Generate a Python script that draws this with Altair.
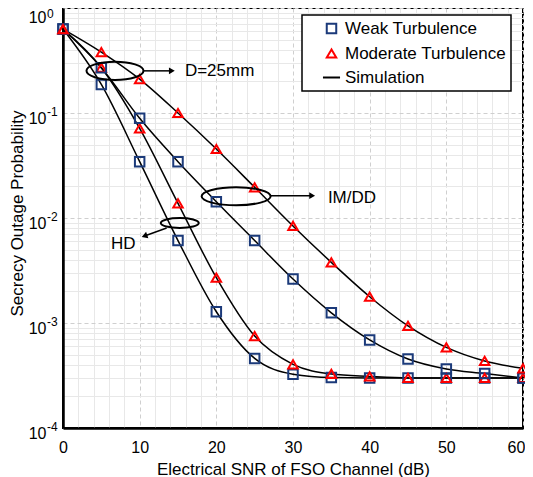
import altair as alt
import pandas as pd

# ---------------- data ----------------
snr = [0, 5, 10, 15, 20, 25, 30, 35, 40, 45, 50, 55, 60]
weak_hd = [0.63, 0.187, 0.0344, 0.0061, 0.00128, 0.00046, 0.000325, 0.000302,
           0.0003, 0.0003, 0.0003, 0.0003, 0.0003]
moderate_hd = [0.63, 0.27, 0.0714, 0.0138, 0.0027, 0.00075, 0.000404, 0.000327,
               0.00031, 0.0003, 0.0003, 0.0003, 0.0003]
weak_imdd = [0.63, 0.27, 0.089, 0.0344, 0.0143, 0.0061, 0.00262, 0.00125,
             0.00069, 0.000454, 0.000365, 0.000331, 0.0003]
moderate_imdd = [0.63, 0.38, 0.21, 0.10, 0.0454, 0.0196, 0.0084, 0.00378,
                 0.00178, 0.00094, 0.000586, 0.000435, 0.00037]

legend_labels = ["Weak Turbulence", "Moderate Turbulence", "Simulation"]
series_info = [
    ("Weak HD", "Weak Turbulence", weak_hd),
    ("Moderate HD", "Moderate Turbulence", moderate_hd),
    ("Weak IM/DD", "Weak Turbulence", weak_imdd),
    ("Moderate IM/DD", "Moderate Turbulence", moderate_imdd),
]

# y tick labels: base "10" plus exponent
y_decades = [1e-4, 1e-3, 1e-2, 1e-1, 1.0]
y_exponents = ["-4", "-3", "-2", "-1", "0"]

# annotations (data coordinates)
ellipse_labels = ["D=25mm", "IM/DD", "HD"]
ellipse_x = [6.78, 22.58, 15.23]
ellipse_y = [0.252, 0.0161, 0.00896]
ellipse_w = [57, 69, 38]
ellipse_ratio = [0.32, 0.26, 0.26]

arrow_x1 = [10.47, 27.08, 13.52]
arrow_x2 = [14.2, 32.5, 10.63]
arrow_y1 = [0.252, 0.0163, 0.00803]
arrow_y2 = [0.252, 0.0163, 0.00674]
arrow_angle = [0, 0, 160]

text_x = [15.9, 34.55, 7.86]
text_y = [0.252, 0.0155, 0.00565]
text_align = ["left", "left", "center"]

NAVY = "#1B3A7A"
RED = "#FF0000"
FONT = "Liberation Sans"

rows = []
for name, turb, vals in series_info:
    for s, v in zip(snr, vals):
        rows.append({"snr": s, "prob": v, "turb": turb, "series": name})
df = pd.DataFrame(rows)

x_scale = alt.Scale(domain=[0, 60], nice=False, zero=False)
y_scale = alt.Scale(type="log", domain=[1e-4, 1], nice=False)

x_values = list(range(0, 61, 2))
y_values = [m * 10.0 ** e for e in range(-4, 0) for m in range(1, 10)] + [1.0]

dec_test = "abs(log(datum.value)/LN10 - round(log(datum.value)/LN10)) < 0.001"
x_major = "datum.value % 10 === 0"

x_axis = alt.Axis(
    values=x_values,
    labelExpr="datum.value % 10 === 0 ? '' + datum.value : ''",
    ticks=False, labelFlush=False, labelOverlap=False, labelBound=False,
    labelPadding=11, labelFontSize=16,
    labelOffset={"condition": {"test": "datum.value >= 60", "value": -7}, "value": 0},
    title="Electrical SNR of FSO Channel (dB)", titleFontSize=17,
    titleBaseline="alphabetic", titleY=46, titleX=230,
    domainColor="black", domainWidth=2.5,
    gridDash={"condition": {"test": x_major, "value": [4, 3]}, "value": []},
    gridColor={"condition": {"test": x_major, "value": "#cfcfcf"}, "value": "#e8e8e8"},
    gridWidth=1,
)
y_axis = alt.Axis(
    values=y_values,
    labelExpr=dec_test + " ? '10' : ''",
    ticks=False, labelFlush=False, labelOverlap=False, labelBound=False,
    labelPadding=17, labelFontSize=16, labelBaseline="middle",
    labelOffset={"condition": {"test": "datum.value > 0.5", "value": 9}, "value": 5},
    title="Secrecy Outage Probability", titleFontSize=17,
    titleBaseline="alphabetic", titleAngle=-90, titleX=-41, titleY=205,
    titleAlign="center",
    domainColor="black", domainWidth=2.5,
    gridDash={"condition": {"test": dec_test, "value": [4, 3]}, "value": []},
    gridColor={"condition": {"test": dec_test, "value": "#cfcfcf"}, "value": "#e8e8e8"},
    gridWidth=1,
)


def X(field):
    return alt.X(field, type="quantitative", scale=x_scale, axis=x_axis)


def Y(field):
    return alt.Y(field, type="quantitative", scale=y_scale, axis=y_axis)


base = alt.Chart(df)

lines = base.mark_line(color="black", strokeWidth=1.5, interpolate="monotone").encode(
    x=X("snr"), y=Y("prob"), detail="series:N",
)

leg = alt.Legend(title=None, orient="none", legendX=239, legendY=7)
points = base.mark_point(filled=False, strokeWidth=2, size=90, opacity=1).encode(
    x=X("snr"), y=Y("prob"),
    shape=alt.Shape("turb:N", scale=alt.Scale(domain=legend_labels,
                    range=["square", "triangle-up", "M-1.8,0L1.8,0"]), legend=leg),
    color=alt.Color("turb:N", scale=alt.Scale(domain=legend_labels,
                    range=[NAVY, RED, "black"]), legend=leg),
)

exp_low = pd.DataFrame({"v": y_decades[:-1], "e": y_exponents[:-1]})
exp_top = pd.DataFrame({"v": y_decades[-1:], "e": y_exponents[-1:]})
exponents_low = alt.Chart(exp_low).mark_text(
    font=FONT, fontSize=12, color="black", align="left", baseline="middle", dy=-1,
).encode(x=alt.value(-16), y=Y("v"), text="e:N")
exponents_top = alt.Chart(exp_top).mark_text(
    font=FONT, fontSize=12, color="black", align="left", baseline="middle", dy=6,
).encode(x=alt.value(-16), y=Y("v"), text="e:N")


def ellipse_path(r):
    k = 0.5523
    return (f"M1,0 C1,{k*r:.4f} {k:.4f},{r:.4f} 0,{r:.4f} "
            f"C{-k:.4f},{r:.4f} -1,{k*r:.4f} -1,0 "
            f"C-1,{-k*r:.4f} {-k:.4f},{-r:.4f} 0,{-r:.4f} "
            f"C{k:.4f},{-r:.4f} 1,{-k*r:.4f} 1,0 Z")


layers = [lines, points, exponents_low, exponents_top]
for i in range(len(ellipse_labels)):
    d = pd.DataFrame({
        "ex": [ellipse_x[i]], "ey": [ellipse_y[i]],
        "ax1": [arrow_x1[i]], "ax2": [arrow_x2[i]],
        "ay1": [arrow_y1[i]], "ay2": [arrow_y2[i]],
        "tx": [text_x[i]], "ty": [text_y[i]], "label": [ellipse_labels[i]],
    })
    c = alt.Chart(d)
    layers.append(c.mark_point(shape=ellipse_path(ellipse_ratio[i]), size=ellipse_w[i] ** 2,
                               filled=False, color="black", strokeWidth=2, opacity=1).encode(
        x=X("ex"), y=Y("ey")))
    layers.append(c.mark_rule(color="black", strokeWidth=1.5).encode(
        x=X("ax1"), x2="ax2:Q", y=Y("ay1"), y2="ay2:Q"))
    layers.append(c.mark_point(shape="triangle-right", filled=True, color="black", size=45,
                               opacity=1, angle=arrow_angle[i]).encode(
        x=X("ax2"), y=Y("ay2")))
    layers.append(c.mark_text(font=FONT, fontSize=17, color="black", align=text_align[i],
                              baseline="middle").encode(
        x=X("tx"), y=Y("ty"), text="label:N"))

chart = alt.layer(*layers).properties(
    width=460, height=420,
    autosize=alt.AutoSizeParams(type="none"),
    padding={"left": 55, "top": 0, "right": 2, "bottom": 51},
).configure_view(
    stroke="black", strokeWidth=2,
).configure_axis(
    labelFont=FONT, titleFont=FONT, labelColor="black", titleColor="black",
    titleFontWeight="normal", labelOverlap=False,
).configure_legend(
    labelFont=FONT, labelFontSize=17, labelColor="black", labelLimit=400,
    fillColor="white", strokeColor="black", strokeWidth=1.5,
    padding=5, rowPadding=6, symbolOffset=16, labelOffset=5,
    symbolSize=90, symbolStrokeWidth=2,
)

chart.save("out.html", embed_options={"renderer": "svg", "actions": False})
